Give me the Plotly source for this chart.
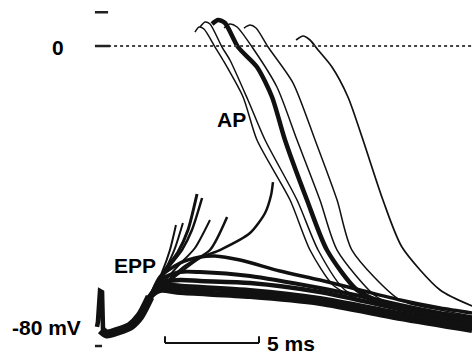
import plotly.graph_objects as go

# ---------------- data (time in ms, membrane potential in mV) ----------------
# stimulus artifact
art_t = [-0.16, -0.11, 0.0, 0.11, 0.16]
art_v = [-74.9, -73.6, -65.3, -65.6, -75.7]

# common early EPP rise (all sweeps superimposed)
rise_t = [0.05, 0.37, 0.96, 1.60, 2.13, 2.66]
rise_v = [-75.7, -76.8, -76.0, -74.7, -72.0, -66.9]

# sub-threshold EPPs
epp_a_t = [3.19, 4.26, 5.32, 6.12, 7.45, 9.57, 11.70, 13.83, 15.96, 18.09, 19.79]
epp_a_v = [-61.6, -57.87, -56.27, -56.00, -57.07, -60.00, -62.40, -65.07, -67.73, -69.87, -71.20]
epp_b_t = [3.19, 4.26, 5.32, 7.98, 11.70, 13.83, 15.96, 18.09, 19.79]
epp_b_v = [-62.4, -60.27, -60.27, -61.33, -64.53, -66.67, -69.07, -71.20, -72.53]
epp_c_t = [3.19, 4.26, 5.32, 7.98, 11.70, 15.96, 19.79]
epp_c_v = [-63.2, -62.40, -62.67, -63.20, -65.60, -70.13, -73.60]
epp_d_t = [3.19, 4.52, 7.98, 11.70, 15.96, 19.79]
epp_d_v = [-64.0, -64.27, -65.33, -67.47, -71.47, -74.67]
epp_e_t = [3.19, 4.26, 7.98, 11.70, 15.96, 19.79]
epp_e_v = [-65.07, -65.60, -66.67, -68.53, -72.53, -75.73]

# visible AP upstroke foot (the fast rise itself is not visible)
up1_t = [3.46, 4.15, 4.68, 5.16]; up1_v = [-59.73, -54.93, -49.07, -39.47]
up2_t = [3.62, 4.36, 4.89, 5.43]; up2_v = [-59.20, -54.40, -49.07, -40.53]
up3_t = [3.30, 3.72, 4.04];       up3_v = [-60.27, -54.40, -47.73]
up4_t = [3.46, 3.99, 4.41];       up4_v = [-59.73, -53.87, -47.20]
up5_t = [4.15, 5.05, 5.85];       up5_v = [-58.67, -53.87, -46.40]
up6_t = [4.52, 5.85, 6.76];       up6_v = [-58.67, -54.40, -45.60]
up7_t = [5.32, 6.38, 7.98, 8.78, 9.10, 9.20]
up7_v = [-56.53, -54.40, -49.87, -44.53, -39.73, -36.27]

# AP peaks and repolarisation
ap1_t = [5.05, 5.27, 5.53, 6.12, 6.54, 7.61, 8.35, 10.11, 11.17, 12.39, 13.83, 15.96, 19.79]
ap1_v = [3.73, 5.07, 4.53, -0.27, -3.73, -13.60, -25.07, -41.07, -54.40, -63.73, -67.73, -70.40, -73.07]
ap2_t = [5.32, 5.59, 5.85, 6.49, 6.91, 7.87, 8.78, 10.48, 11.60, 13.03, 14.89, 17.02, 19.79]
ap2_v = [5.07, 6.40, 5.87, -0.27, -3.73, -14.40, -25.07, -41.07, -54.40, -65.07, -68.53, -70.93, -73.60]
ap3_t = [5.96, 6.28, 6.65, 7.34, 8.35, 9.15, 9.84, 11.01, 12.07, 13.67, 15.43, 17.55, 19.79]
ap3_v = [5.87, 6.93, 6.13, -0.27, -5.60, -13.60, -25.07, -41.07, -54.40, -65.07, -69.07, -71.20, -73.07]
ap4_t = [6.60, 6.91, 7.29, 8.09, 9.41, 10.48, 11.70, 12.61, 14.73, 16.49, 18.09, 19.79]
ap4_v = [4.80, 5.87, 5.07, -0.27, -10.93, -25.07, -41.07, -54.40, -66.93, -69.87, -71.47, -72.53]
ap5_t = [7.66, 7.98, 8.30, 8.94, 10.27, 11.44, 12.61, 13.40, 15.96, 18.09, 19.79]
ap5_v = [4.80, 5.60, 4.80, -0.27, -9.87, -25.07, -41.07, -54.40, -67.73, -70.40, -72.00]
ap6_t = [10.43, 10.80, 11.17, 11.60, 12.34, 13.19, 13.99, 15.05, 16.06, 18.09, 19.79]
ap6_v = [1.60, 2.67, 1.60, -1.07, -5.60, -13.60, -25.07, -41.07, -53.60, -65.07, -69.33]

# axis marks and scale bar
tick_mv = [9, 0, -80]
scale_ms = [3.457, 8.457]  # 5 ms calibration

INK = "#111111"

fig = go.Figure()

def line(t, v, w, shape="spline"):
    fig.add_trace(go.Scatter(x=t, y=v, mode="lines", hoverinfo="skip",
                             line=dict(color=INK, width=w, shape=shape, smoothing=0.7)))

line(art_t, art_v, 4.5, "linear")
# every sweep shares the early rise, then diverges
for t, v, w in [(epp_e_t, epp_e_v, 6), (epp_d_t, epp_d_v, 6), (epp_c_t, epp_c_v, 4.5),
                (epp_b_t, epp_b_v, 4), (epp_a_t, epp_a_v, 3.5)]:
    line(rise_t[-2:] + t, rise_v[-2:] + v, w)
line(rise_t, rise_v, 9)
for t, v, w in [(up1_t, up1_v, 3), (up2_t, up2_v, 2.5), (up3_t, up3_v, 2),
                (up4_t, up4_v, 2), (up5_t, up5_v, 2), (up6_t, up6_v, 2.5), (up7_t, up7_v, 2.5)]:
    line(rise_t[-1:] + t, rise_v[-1:] + v, w)
for t, v, w in [(ap1_t, ap1_v, 1.5), (ap2_t, ap2_v, 1.5), (ap3_t, ap3_v, 4.5),
                (ap4_t, ap4_v, 1.5), (ap5_t, ap5_v, 1.5), (ap6_t, ap6_v, 1.7)]:
    line(t, v, w)

shapes = []
# zero reference dotted line
shapes.append(dict(type="line", xref="x", yref="y", x0=0.43, x1=19.8, y0=tick_mv[1], y1=tick_mv[1],
                   line=dict(color="#444", width=2, dash="dot")))
# axis ticks
for mv, x1 in zip(tick_mv, [0.43, 0.53, 0.11]):
    shapes.append(dict(type="line", xref="x", yref="y", x0=-0.27, x1=x1, y0=mv, y1=mv,
                       line=dict(color="#222", width=2.5)))
# scale bar
shapes.append(dict(type="line", xref="x", yref="y", x0=scale_ms[0], x1=scale_ms[1],
                   y0=-79.2, y1=-79.2, line=dict(color=INK, width=2)))
for s in scale_ms:
    shapes.append(dict(type="line", xref="x", yref="y", x0=s, x1=s,
                       y0=-79.2, y1=-77.4, line=dict(color=INK, width=2)))

FONT = dict(family="Liberation Sans, Arial, sans-serif", size=21, color="#000")
ann = [
    dict(x=-2.24, y=-0.5, text="<b>0</b>", xanchor="center", yanchor="middle"),
    dict(x=-2.87, y=-75.0, text="<b>-80 mV</b>", xanchor="center", yanchor="middle"),
    dict(x=1.86, y=-58.4, text="<b>EPP</b>", xanchor="center", yanchor="middle"),
    dict(x=6.97, y=-19.7, text="<b>AP</b>", xanchor="center", yanchor="middle"),
    dict(x=8.75, y=-79.2, text="<b>5 ms</b>", xanchor="left", yanchor="middle"),
]
for a in ann:
    a.update(xref="x", yref="y", showarrow=False, font=FONT)

fig.update_layout(
    width=472, height=354, margin=dict(l=0, r=0, t=0, b=0),
    paper_bgcolor="white", plot_bgcolor="white", showlegend=False,
    xaxis=dict(range=[-5.319, 19.787], visible=False, fixedrange=True),
    yaxis=dict(range=[-82.13, 12.27], visible=False, fixedrange=True),
    shapes=shapes, annotations=ann,
)
fig.write_html("out.html")
